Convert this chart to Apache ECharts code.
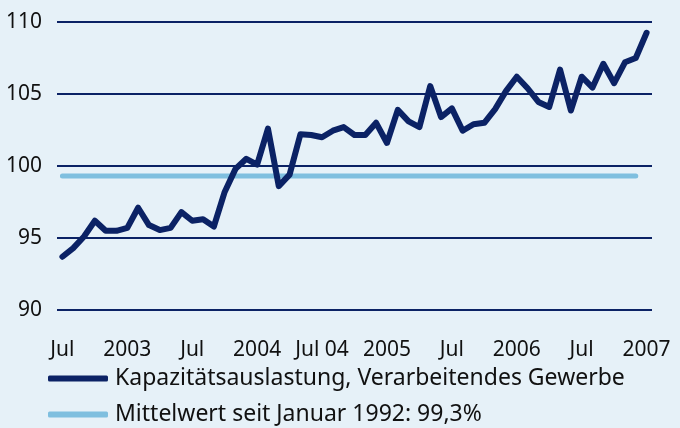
<!DOCTYPE html>
<html>
<head>
<meta charset="utf-8">
<script src="https://cdn.jsdelivr.net/npm/echarts@6/dist/echarts.min.js"></script>
<style>html,body{margin:0;padding:0;background:#e6f1f8;}#c{width:680px;height:428px;}</style>
</head>
<body>
<div id="c"></div>
<script>
const categories = ['Jul 02','Aug 02','Sep 02','Oct 02','Nov 02','Dec 02',
 'Jan 03','Feb 03','Mar 03','Apr 03','May 03','Jun 03','Jul 03','Aug 03','Sep 03','Oct 03','Nov 03','Dec 03',
 'Jan 04','Feb 04','Mar 04','Apr 04','May 04','Jun 04','Jul 04','Aug 04','Sep 04','Oct 04','Nov 04','Dec 04',
 'Jan 05','Feb 05','Mar 05','Apr 05','May 05','Jun 05','Jul 05','Aug 05','Sep 05','Oct 05','Nov 05','Dec 05',
 'Jan 06','Feb 06','Mar 06','Apr 06','May 06','Jun 06','Jul 06','Aug 06','Sep 06','Oct 06','Nov 06','Dec 06',
 'Jan 07'];
const capacity = [93.7,94.3,95.1,96.2,95.5,95.5,
 95.7,97.1,95.9,95.55,95.7,96.8,96.2,96.3,95.8,98.2,99.8,100.5,
 100.1,102.6,98.6,99.4,102.2,102.15,102.0,102.45,102.7,102.15,102.15,103.0,
 101.6,103.9,103.1,102.7,105.55,103.4,104.0,102.45,102.9,103.0,103.95,105.2,
 106.2,105.4,104.45,104.1,106.7,103.85,106.2,105.45,107.1,105.75,107.2,107.5,
 109.25];
const meanValue = 99.3;
const meanSeries = categories.map((c, i) => i < categories.length - 1 ? meanValue : null);
const tickLabels = ['Jul','2003','Jul','2004','Jul 04','2005','Jul','2006','Jul','2007'];
const seriesNames = ['Kapazitätsauslastung, Verarbeitendes Gewerbe','Mittelwert seit Januar 1992: 99,3%'];

const chart = echarts.init(document.getElementById('c'), null, {renderer:'canvas'});
const font = 'Noto Sans';
const legendBase = {
  orient:'horizontal', left:48, padding:0, itemWidth:60, itemHeight:6,
  icon:'roundRect',
  textStyle:{fontFamily:font, fontSize:23, color:'#111', padding:[0,0,0,2]}
};
chart.setOption({
  backgroundColor:'#e6f1f8',
  animation:false,
  grid:{left:57,right:28,top:22,bottom:118,containLabel:false},
  xAxis:{
    type:'category', data:categories, boundaryGap:true,
    axisLine:{show:false}, axisTick:{show:false},
    axisLabel:{interval:5, margin:30, fontFamily:font, fontSize:21, color:'#111',
      formatter:(v,idx)=>tickLabels[idx/6] || '', hideOverlap:false, showMaxLabel:true},
    splitLine:{show:false}
  },
  yAxis:{
    type:'value', min:90, max:110, interval:5,
    axisLine:{show:false}, axisTick:{show:false},
    axisLabel:{margin:15, fontFamily:font, fontSize:21, color:'#111'},
    splitLine:{lineStyle:{color:'#0b2265', width:2}}
  },
  legend:[
    Object.assign({}, legendBase, {top:367, data:[seriesNames[0]]}),
    Object.assign({}, legendBase, {top:403, data:[seriesNames[1]]})
  ],
  series:[
    {name:seriesNames[1], type:'line', data:meanSeries, symbol:'none',
     lineStyle:{color:'#7fbfdf', width:5, cap:'round'}, itemStyle:{color:'#7fbfdf'}},
    {name:seriesNames[0], type:'line', data:capacity, symbol:'none',
     lineStyle:{color:'#0b2265', width:6, cap:'round', join:'round'}, itemStyle:{color:'#0b2265'}}
  ]
});
</script>
</body>
</html>
